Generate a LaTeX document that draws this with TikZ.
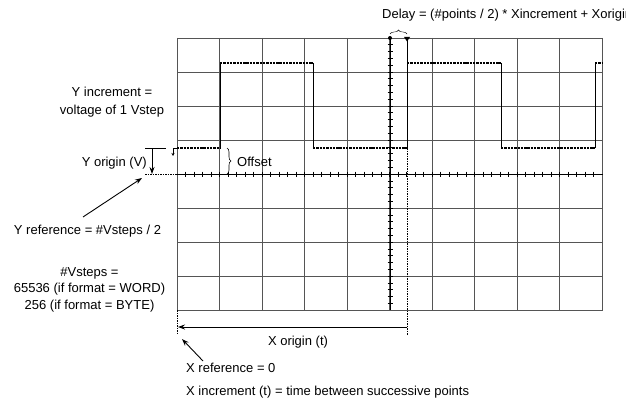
\documentclass[tikz,border=0pt]{standalone}
\usepackage{fontspec}
\setmainfont{Liberation Sans}
\usetikzlibrary{arrows.meta,positioning,decorations.pathreplacing}
\definecolor{gridgray}{HTML}{555555}

\begin{document}
\begin{tikzpicture}[x=1pt,y=-1pt,
 lbl/.style={inner sep=0pt,font=\fontsize{13}{17}\selectfont},
 gridline/.style={draw=gridgray,line width=0.9pt},
 axisline/.style={draw=black,line width=0.9pt},
 tickline/.style={draw=black,line width=0.6pt},
 trace/.style={line width=1.1pt,dash pattern=on 2.4pt off 0.9pt},
 edgeline/.style={line width=1pt},
 refline/.style={line width=0.8pt,dash pattern=on 1.5pt off 1pt},
 pointer/.style={-{Stealth[length=7pt,width=5pt]},line width=0.9pt}]
\useasboundingbox (0,0) rectangle (626,409);

% graticule
\foreach \i in {0,...,10} \draw[gridline] (177+42.5*\i,38) -- (177+42.5*\i,310);
\foreach \j in {0,...,8} \draw[gridline] (177,38+34*\j) -- (603,38+34*\j);
\draw[axisline] (177,174) -- (603,174);
\draw[axisline] (390,38) -- (390,310);
\foreach \k in {1,...,49} \draw[tickline] (177+8.5*\k,171.5) -- (177+8.5*\k,176.5);
\foreach \k in {1,...,39} \draw[tickline] (387.5,38+6.8*\k) -- (392.5,38+6.8*\k);

% waveform
\coordinate (wstart) at (177,148);
\draw[trace] (wstart) -- (220,148) (313,148) -- (407,148) (501,148) -- (595,148);
\draw[trace] (220,63) -- (313,63) (407,63) -- (501,63) (595,63) -- (603,63);
\foreach \e in {220,313,407,501,595} \draw[edgeline] (\e,63) -- (\e,148);
\draw[-{Stealth[length=3pt,width=3pt]},line width=0.6pt] (wstart) -| (173,156);

% delay markers
\coordinate (trig) at (407,38);
\coordinate (mid) at (390,38);
\fill (mid) circle (2pt);
\fill (404,37) -- (410,37) -- (407,41.5) -- cycle;
\draw[edgeline] (trig) -- (407,63);
\draw[refline] (407,148) -- (407,335);
\draw[decorate,decoration={brace,amplitude=4pt}] (390,34) -- (407,34);
\node[lbl,anchor=base west] (delay) at (382,19) {Delay = (\#points / 2) * Xincrement + Xorigin};

% Y origin and offset
\draw[line width=0.8pt] (145,148) -- (166,148);
\draw[refline] (145,174) -- (177,174);
\coordinate (yotop) at (152,148);
\coordinate (yobot) at (152,174);
\draw[pointer] (yotop) -- (yobot);
\draw[decorate,decoration={brace,amplitude=4pt},line width=0.6pt] (227,148) -- (227,174);
\node[lbl,anchor=base east] (yorig) at (147,166.5) {Y origin (V)};
\node[lbl,anchor=base west] (offset) at (237,166.5) {Offset};

\node[lbl,anchor=base,align=center,font=\fontsize{13}{18}\selectfont] (yinc) at (112,115) {Y increment =\\voltage of 1 Vstep};

% Y reference
\coordinate (yref) at (142,178);
\node[lbl,anchor=base] (yreflbl) at (87.5,234) {Y reference = \#Vsteps / 2};
\draw[pointer] (83,217) -- (yref);
\node[lbl,anchor=base,align=center,font=\fontsize{13}{16.5}\selectfont] (vsteps) at (89.5,309) {\#Vsteps =\\65536 (if format = WORD)\\256 (if format = BYTE)};

% X origin and X reference
\coordinate (xref) at (177,310);
\draw[refline] (xref) -- (177,335);
\coordinate (xoend) at (407,327);
\draw[pointer] (xoend) -- (178,327);
\node[lbl,anchor=base] (xorig) at (298,345) {X origin (t)};
\draw[pointer] (203,361) -- (182,339);
\node[lbl,anchor=base west] (xreflbl) at (186,372) {X reference = 0};
\node[lbl,anchor=base west] (xinc) at (186,395) {X increment (t) = time between successive points};
\end{tikzpicture}
\end{document}
